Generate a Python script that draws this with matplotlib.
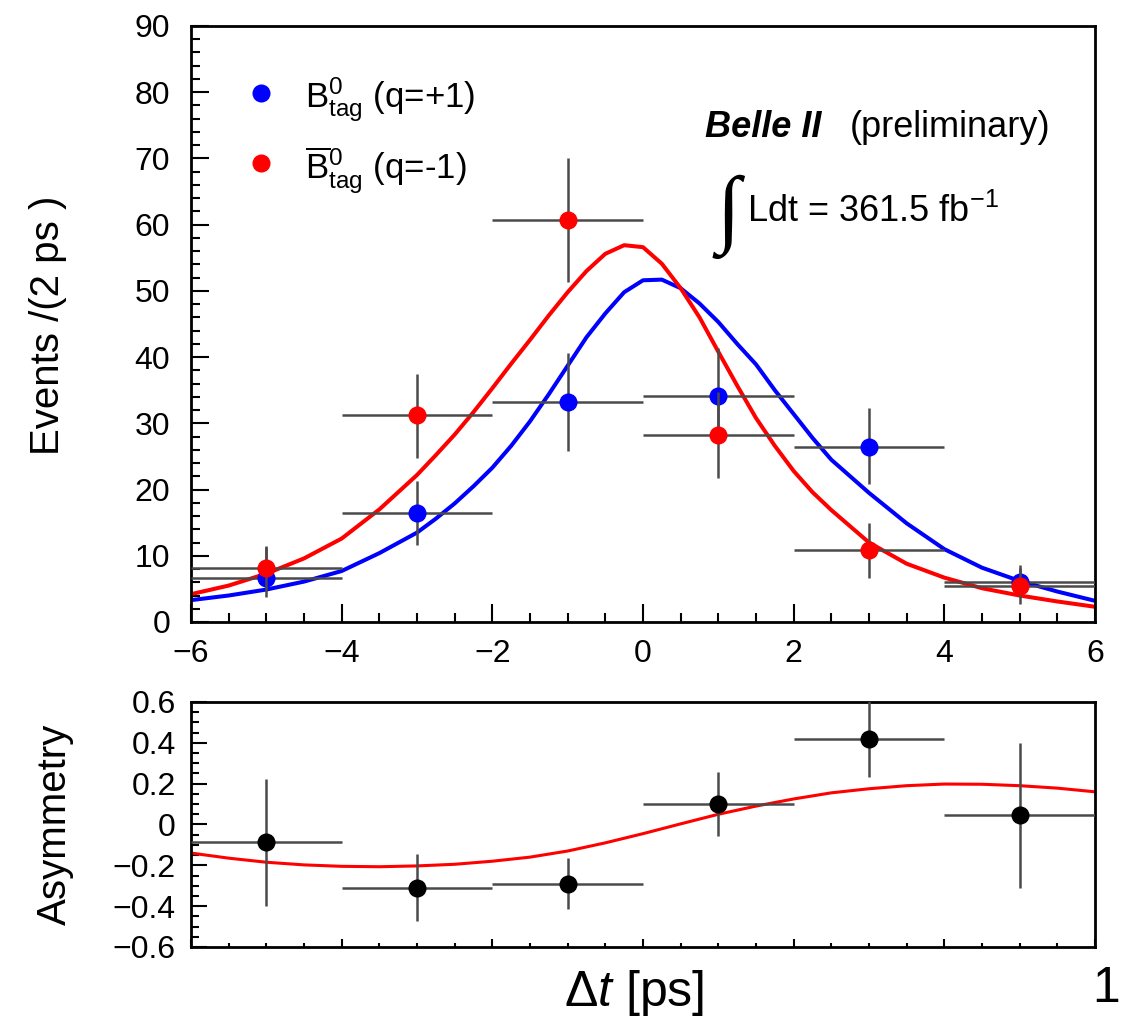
import matplotlib
matplotlib.use("Agg")
import matplotlib.pyplot as plt
from matplotlib.ticker import MultipleLocator

plt.rcParams["font.family"] = ["Liberation Sans", "DejaVu Sans"]
plt.rcParams["mathtext.fontset"] = "custom"
plt.rcParams["mathtext.rm"] = "Liberation Sans"
plt.rcParams["mathtext.it"] = "Liberation Sans:italic"
plt.rcParams["mathtext.bf"] = "Liberation Sans:bold"
plt.rcParams["axes.unicode_minus"] = True

# --- binned data (2 ps bins) ---
bin_centers = [-5, -3, -1, 1, 3, 5]
bin_half = [1, 1, 1, 1, 1, 1]

b0_y = [6.7, 16.5, 33.2, 34.2, 26.5, 6.0]
b0_up = [4.7, 4.8, 7.4, 7.2, 5.8, 2.6]
b0_dn = [3.0, 4.8, 7.4, 6.8, 5.7, 2.2]

b0bar_y = [8.2, 31.3, 60.7, 28.2, 10.9, 5.5]
b0bar_up = [3.3, 6.2, 9.3, 6.6, 4.1, 2.6]
b0bar_dn = [3.0, 6.5, 9.3, 6.4, 4.2, 2.8]

asym_y = [-0.088, -0.31, -0.29, 0.10, 0.42, 0.045]
asym_err = [0.31, 0.165, 0.125, 0.155, 0.185, 0.355]

# --- fit projections ---
curve_t = [-6, -5.5, -5, -4.5, -4, -3.5, -3, -2.75, -2.5, -2.25, -2, -1.75, -1.5,
           -1.25, -1, -0.75, -0.5, -0.25, 0, 0.25, 0.5, 0.75, 1, 1.25, 1.5, 1.75,
           2, 2.25, 2.5, 3, 3.5, 4, 4.5, 5, 5.5, 6]
b0_fit = [3.3, 4.0, 4.9, 6.1, 7.7, 10.4, 13.5, 15.6, 17.9, 20.5, 23.3, 26.6, 30.3,
          34.4, 38.7, 43.0, 46.6, 49.8, 51.6, 51.7, 50.4, 48.1, 45.3, 42.0, 38.9, 35.0,
          31.4, 27.8, 24.5, 19.5, 14.9, 11.0, 8.2, 6.2, 4.6, 3.2]
b0bar_fit = [4.2, 5.5, 7.3, 9.6, 12.6, 17.0, 22.2, 25.2, 28.3, 31.7, 35.3, 39.0, 42.6,
             46.3, 49.8, 53.0, 55.6, 56.9, 56.6, 54.1, 50.4, 46.0, 40.8, 35.7, 30.8,
             26.6, 22.8, 19.6, 16.9, 12.0, 8.8, 6.7, 5.1, 4.0, 3.1, 2.3]

asym_t = [-6, -5.5, -5, -4.5, -4, -3.5, -3, -2.5, -2, -1.5, -1, -0.5, 0,
          0.5, 1, 1.5, 2, 2.5, 3, 3.5, 4, 4.5, 5, 5.5, 6]
asym_fit = [-0.14, -0.165, -0.185, -0.198, -0.205, -0.207, -0.203, -0.195, -0.18,
            -0.16, -0.13, -0.09, -0.045, 0.003, 0.05, 0.09, 0.125, 0.155, 0.175,
            0.19, 0.198, 0.197, 0.19, 0.178, 0.16]

top_yticks = [0, 10, 20, 30, 40, 50, 60, 70, 80, 90]
x_ticks = [-6, -4, -2, 0, 2, 4, 6]
x_ticklabels = ["\u22126", "\u22124", "\u22122", "0", "2", "4", "6"]
asym_ticks = [-0.6, -0.4, -0.2, 0, 0.2, 0.4, 0.6]
asym_ticklabels = ["\u22120.6", "\u22120.4", "\u22120.2", "0", "0.2", "0.4", "0.6"]

BLUE = "#0000ff"
RED = "#ff0000"
ERR = "#4a4a4a"

fig = plt.figure(figsize=(11.21, 10.19), dpi=100)
ax = fig.add_axes([0.1704, 0.3896, 0.8064, 0.5849])
ax2 = fig.add_axes([0.1704, 0.0707, 0.8064, 0.2404])

for a in (ax, ax2):
    for s in a.spines.values():
        s.set_linewidth(2.0)
    a.set_xlim(-6, 6)
    a.xaxis.set_minor_locator(MultipleLocator(0.5))

# top panel
ax.plot(curve_t, b0_fit, color=BLUE, lw=2.9, zorder=2, solid_joinstyle="round")
ax.plot(curve_t, b0bar_fit, color=RED, lw=2.9, zorder=2, solid_joinstyle="round")
ax.errorbar(bin_centers, b0_y, xerr=bin_half, yerr=[b0_dn, b0_up], fmt="o",
            color=BLUE, ms=12, mec=BLUE, ecolor=ERR, elinewidth=1.8, capsize=0, zorder=3)
ax.errorbar(bin_centers, b0bar_y, xerr=bin_half, yerr=[b0bar_dn, b0bar_up], fmt="o",
            color=RED, ms=12, mec=RED, ecolor=ERR, elinewidth=1.8, capsize=0, zorder=4)
ax.set_ylim(0, 90)
ax.set_yticks(top_yticks)
ax.yaxis.set_minor_locator(MultipleLocator(2))
ax.set_xticks(x_ticks, x_ticklabels)
ax.tick_params(which="both", direction="in", top=False, right=False, width=1.5,
               labelsize=23)
ax.tick_params(which="major", length=13)
ax.tick_params(which="minor", length=6.5)
ax.tick_params(axis="y", pad=15)
ax.tick_params(axis="x", pad=12)

# legend (drawn by hand, ROOT style)
ax.plot([0.0774], [0.8876], "o", color=BLUE, ms=12, transform=ax.transAxes, clip_on=False)
ax.plot([0.0774], [0.770], "o", color=RED, ms=12, transform=ax.transAxes, clip_on=False)
ax.text(0.126, 0.862, r"B$^{0}_{\mathrm{tag}}$ (q=+1)", transform=ax.transAxes,
        fontsize=25, va="baseline")
ax.text(0.126, 0.742, r"$\overline{\mathrm{B}}^{0}_{\mathrm{tag}}$ (q=-1)",
        transform=ax.transAxes, fontsize=25, va="baseline")

ax.text(0.5686, 0.8138, "Belle II", transform=ax.transAxes, fontsize=26,
        fontweight="bold", fontstyle="italic", va="baseline")
ax.text(0.729, 0.8138, "(preliminary)", transform=ax.transAxes, fontsize=26,
        va="baseline")
ax.text(0.581, 0.68, "\u222b", transform=ax.transAxes, fontsize=62,
        family="Liberation Serif", va="center", ha="left")
ax.text(0.615, 0.671, r"Ldt = 361.5 fb$^{-1}$", transform=ax.transAxes,
        fontsize=26, va="baseline")

# asymmetry panel
ax2.plot(asym_t, asym_fit, color=RED, lw=2.2, zorder=2)
ax2.errorbar(bin_centers, asym_y, xerr=bin_half, yerr=asym_err, fmt="o",
             color="black", ms=12, ecolor=ERR, elinewidth=1.8, capsize=0, zorder=3)
ax2.set_ylim(-0.6, 0.6)
ax2.set_yticks(asym_ticks, asym_ticklabels)
ax2.yaxis.set_minor_locator(MultipleLocator(0.05))
ax2.set_xticks(x_ticks)
ax2.tick_params(which="both", direction="in", top=False, right=False, width=1.5,
                labelsize=23, labelbottom=False)
ax2.tick_params(axis="y", which="major", length=11.5, pad=11)
ax2.tick_params(axis="y", which="minor", length=6)
ax2.tick_params(axis="x", which="major", length=6)
ax2.tick_params(axis="x", which="minor", length=3)

fig.text(48 / 1121, 1 - 325 / 1019, "Events /(2 ps )", rotation=90, fontsize=29,
         ha="center", va="center")
fig.text(55 / 1121, 1 - 824 / 1019, "Asymmetry", rotation=90, fontsize=29,
         ha="center", va="center")
fig.text(634 / 1121, 1 - 1006 / 1019, r"$\Delta t$ [ps]", fontsize=36,
         ha="center", va="baseline")
fig.text(1092 / 1121, 1 - 1002 / 1019, "1", fontsize=36, ha="left", va="baseline")

fig.savefig("out.png", dpi=100)
